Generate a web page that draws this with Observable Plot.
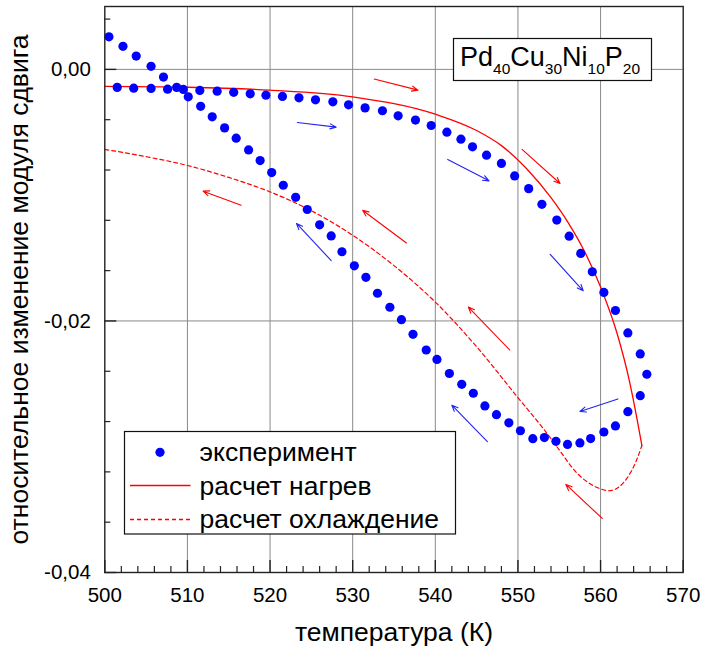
<!DOCTYPE html>
<html>
<head>
<meta charset="utf-8">
<script src="https://cdn.jsdelivr.net/npm/d3@7"></script>
<script src="https://cdn.jsdelivr.net/npm/@observablehq/plot@0.6"></script>
<style>
  body { margin: 0; background: #fff; }
  #wrap { position: relative; width: 701px; height: 651px; }
  #wrap svg.overlay { position: absolute; left: 0; top: 0; pointer-events: none; }
</style>
</head>
<body>
<div id="wrap"></div>
<script>
// Shear modulus change of Pd40Cu30Ni10P20 vs temperature: experiment and calculation

// experiment, heating run: [T (K), relative change]
const expHeating = [
  [501.5,-0.00143],[503.5,-0.00149],[505.6,-0.00151],[507.6,-0.00157],[509.5,-0.00159],
  [511.5,-0.00167],[513.6,-0.00173],[515.6,-0.00182],[517.6,-0.00194],[519.5,-0.00205],
  [521.5,-0.00215],[523.5,-0.00226],[525.5,-0.00242],[527.6,-0.00258],[529.5,-0.00282],
  [531.5,-0.00306],[533.6,-0.00329],[535.5,-0.00369],[537.6,-0.00403],[539.5,-0.00446],
  [541.4,-0.00499],[543.1,-0.00555],[544.5,-0.00616],[546.2,-0.00682],[548.0,-0.00748],
  [549.6,-0.00847],[551.3,-0.00948],[552.9,-0.01073],[554.7,-0.01198],[556.2,-0.01326],
  [557.6,-0.01463],[559.0,-0.01609],[560.4,-0.01773],[561.8,-0.01917],[563.3,-0.02095],
  [564.8,-0.02262],[565.6,-0.02424]
];

// experiment, cooling run
const expCooling = [
  [564.8,-0.02594],[563.3,-0.02721],[561.8,-0.02835],[560.4,-0.02883],[558.8,-0.02935],
  [557.5,-0.02970],[556.0,-0.02982],[554.6,-0.02957],[553.2,-0.02927],[551.8,-0.02936],
  [550.3,-0.02873],[548.9,-0.02810],[547.4,-0.02745],[546.0,-0.02676],[544.6,-0.02575],
  [543.2,-0.02504],[541.7,-0.02418],[540.2,-0.02306],[538.9,-0.02231],[537.3,-0.02106],
  [535.9,-0.01990],[534.5,-0.01891],[533.0,-0.01780],[531.6,-0.01653],[530.2,-0.01562],
  [528.7,-0.01450],[527.4,-0.01324],[526.0,-0.01236],[524.5,-0.01114],[523.1,-0.01017],
  [521.6,-0.00921],[520.2,-0.00820],[518.8,-0.00725],[517.4,-0.00640],[515.9,-0.00547],
  [514.5,-0.00465],[513.0,-0.00377],[511.6,-0.00294],[510.1,-0.00218],[508.7,-0.00143],
  [507.1,-0.00061],[505.6,0.00024],[503.8,0.00106],[502.2,0.00183],[500.5,0.00259]
];

// calculation, heating
const calcHeating = [
  [500,-0.00135],[510,-0.00142],[520,-0.00165],[530,-0.00218],[540,-0.00356],
  [545,-0.00486],[548,-0.00606],[551,-0.00786],[554,-0.0102],[556,-0.0121],
  [558,-0.0144],[560,-0.0173],[562,-0.0210],[563.5,-0.0248],[564.3,-0.0274],[565,-0.0299]
];

// calculation, cooling (from the top of the run back down to 500 K)
const calcCooling = [
  [565,-0.0299],[564.4,-0.0310],[563.2,-0.0325],[562,-0.0333],[561,-0.0335],
  [560,-0.03335],[558.5,-0.03285],[557,-0.0320],[555,-0.03025],[553,-0.0285],
  [550,-0.0261],[545,-0.02205],[540,-0.0185],[535,-0.0156],[530,-0.01319],
  [525,-0.01124],[520,-0.00974],[515,-0.00859],[510,-0.00764],[505,-0.00694],
  [500,-0.00636]
];

// direction arrows: [T1, v1, T2, v2]
const redArrows = [
  [532.6,-0.00077,537.9,-0.00165],
  [550.5,-0.00636,555.1,-0.00907],
  [560.2,-0.0357,555.8,-0.0330],
  [549.0,-0.0223,544.0,-0.0189],
  [536.5,-0.0138,531.2,-0.0112],
  [516.5,-0.0108,511.9,-0.00968]
];
const blueArrows = [
  [523.3,-0.00422,528.0,-0.00459],
  [541.5,-0.00716,546.5,-0.00886],
  [553.9,-0.0147,557.9,-0.0176],
  [562.1,-0.0262,557.5,-0.0272],
  [527.4,-0.0152,523.2,-0.01225],
  [546.3,-0.0296,542.0,-0.0267]
];

// ticks and grid
const xMajor = [500, 510, 520, 530, 540, 550, 560, 570];
const xMinor = d3.range(502, 570, 2).filter(t => t % 10 !== 0);
const yMajor = [-0.04, -0.02, 0];
const yMinor = [-0.036, -0.032, -0.028, -0.024, -0.016, -0.012, -0.008, -0.004, 0.004];
const xGrid = [510, 520, 530, 540, 550, 560];
const yGrid = [-0.02, 0];

const xTitle = "температура (К)";
const yTitle = "относительное изменение модуля сдвига";
const legendItems = ["эксперимент", "расчет нагрев", "расчет охлаждение"];
const alloy = [["Pd", "40"], ["Cu", "30"], ["Ni", "10"], ["P", "20"]];

const FONT = "'Liberation Sans', Arial, Helvetica, sans-serif";
const W = 701, H = 651, mL = 104.3, mR = 18.3, mT = 6, mB = 79;
const plotW = W - mL - mR, plotH = H - mT - mB;
const RED = "#ff0000", BLUE = "#0000ff", ARROW_BLUE = "#2424f0";

const pts = a => a.map(([T, v]) => ({T, v}));
const byT = a => pts(a).sort((p, q) => p.T - q.T);
const arr = a => a.map(([x1, y1, x2, y2]) => ({x1, y1, x2, y2}));
const fmtY = d => d.toFixed(2).replace(".", ",");

const chart = Plot.plot({
  width: W, height: H,
  marginLeft: mL, marginRight: mR, marginTop: mT, marginBottom: mB,
  style: {fontFamily: FONT, fontSize: "20.5px", color: "#000", background: "#fff"},
  x: {domain: [500, 570], ticks: xMajor, tickSize: 0, tickPadding: 15, label: null, tickFormat: d => String(d)},
  y: {domain: [-0.04, 0.005], ticks: yMajor, tickSize: 0, tickPadding: 14, label: null, tickFormat: fmtY},
  marks: [
    Plot.ruleX(xGrid, {stroke: "#8a8a8a", strokeWidth: 1}),
    Plot.ruleY(yGrid, {stroke: "#8a8a8a", strokeWidth: 1}),
    Plot.ruleX(xMinor, {insetTop: plotH - 6, stroke: "#222", strokeWidth: 1.2}),
    Plot.ruleX(xMajor, {insetTop: plotH - 12, stroke: "#222", strokeWidth: 1.4}),
    Plot.ruleY(yMinor, {insetRight: plotW - 6, stroke: "#222", strokeWidth: 1.2}),
    Plot.ruleY(yMajor, {insetRight: plotW - 12, stroke: "#222", strokeWidth: 1.4}),
    Plot.line(byT(calcHeating), {x: "T", y: "v", stroke: RED, strokeWidth: 1.3, curve: "monotone-x"}),
    Plot.line(byT(calcCooling), {x: "T", y: "v", stroke: RED, strokeWidth: 1.2, strokeDasharray: "4,3", curve: "monotone-x"}),
    Plot.arrow(arr(redArrows), {x1: "x1", y1: "y1", x2: "x2", y2: "y2", stroke: RED, strokeWidth: 1.1, headLength: 9, headAngle: 45}),
    Plot.arrow(arr(blueArrows), {x1: "x1", y1: "y1", x2: "x2", y2: "y2", stroke: ARROW_BLUE, strokeWidth: 1.1, headLength: 9, headAngle: 45}),
    Plot.dot(pts(expHeating), {x: "T", y: "v", r: 4.6, fill: BLUE, stroke: "none"}),
    Plot.dot(pts(expCooling), {x: "T", y: "v", r: 4.6, fill: BLUE, stroke: "none"}),
    Plot.frame({stroke: "#222", strokeWidth: 1.4}),
    Plot.text([xTitle], {frameAnchor: "bottom", textAnchor: "middle", lineAnchor: "middle", dy: 60, fontSize: 26.5, fill: "#000"}),
    Plot.text([yTitle], {frameAnchor: "left", textAnchor: "middle", lineAnchor: "middle", rotate: -90, dx: -85, fontSize: 26.5, fill: "#000"})
  ]
});

const wrap = document.getElementById("wrap");
wrap.appendChild(chart);

// alloy label and legend boxes
const ov = d3.select(wrap).append("svg")
  .attr("class", "overlay")
  .attr("width", W).attr("height", H)
  .style("font-family", FONT);

const tag = ov.append("g");
tag.append("rect").attr("x", 453.5).attr("y", 38.5).attr("width", 198).attr("height", 42)
  .attr("fill", "#fff").attr("stroke", "#111").attr("stroke-width", 1.2);
const tagText = tag.append("text").attr("x", 460).attr("y", 65.7).attr("font-size", 27).attr("fill", "#000");
alloy.forEach(([el, n], i) => {
  tagText.append("tspan").attr("dy", i === 0 ? 0 : -8.3).text(el);
  tagText.append("tspan").attr("font-size", 15.5).attr("dy", 8.3).text(n);
});

const lg = ov.append("g");
lg.append("rect").attr("x", 124.5).attr("y", 431.5).attr("width", 331).attr("height", 102.5)
  .attr("fill", "#fff").attr("stroke", "#111").attr("stroke-width", 1.2);
lg.append("circle").attr("cx", 160).attr("cy", 452.3).attr("r", 4.6).attr("fill", BLUE);
lg.append("line").attr("x1", 130).attr("x2", 190.5).attr("y1", 485.5).attr("y2", 485.5)
  .attr("stroke", RED).attr("stroke-width", 1.3);
lg.append("line").attr("x1", 130).attr("x2", 190.5).attr("y1", 519.5).attr("y2", 519.5)
  .attr("stroke", RED).attr("stroke-width", 1.3).attr("stroke-dasharray", "4,3");
legendItems.forEach((s, i) => {
  lg.append("text").attr("x", 199.5).attr("y", 461 + i * 33.7)
    .attr("font-size", 26.5).attr("fill", "#000").text(s);
});
</script>
</body>
</html>
